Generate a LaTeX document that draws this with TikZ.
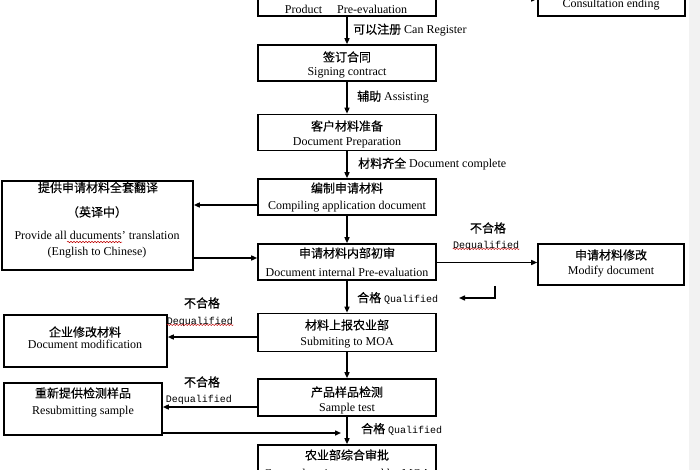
\documentclass[tikz,border=0pt]{standalone}
\usepackage{fontspec}
\setmainfont{Liberation Serif}
\setmonofont{Liberation Mono}
\newfontfamily\cjk[FakeBold=0.4]{Noto Sans CJK SC}
\usetikzlibrary{arrows.meta,decorations.pathmorphing}
\begin{document}
\begin{tikzpicture}[x=1pt,y=-1pt,
  box/.style={draw, line width=1.6pt, rectangle, inner sep=0pt},
  en/.style={font=\fontsize{12}{14}\selectfont, inner sep=0pt},
  zh/.style={font=\cjk\fontsize{12}{14}\selectfont, inner sep=0pt},
  lab/.style={font=\fontsize{12}{14}\selectfont, inner sep=0pt, anchor=west},
  tt/.style={font=\ttfamily\fontsize{10}{12}\selectfont, inner sep=0pt},
  arr/.style={line width=1.4pt, -{Triangle[length=6pt,width=5pt]}},
  wavy/.style={red!75!black, line width=0.5pt, decorate,
    decoration={snake, amplitude=0.7pt, segment length=3pt}}]
\useasboundingbox (0,0) rectangle (700,470);
\clip (0,0) rectangle (700,470);
\fill[white] (0,0) rectangle (700,470);
\fill[black!5] (689,0) rectangle (700,470);

% main column boxes
\node[box, minimum width=178pt, minimum height=40pt, anchor=south] (pre) at (347,17) {};
\node[box, minimum width=147pt, minimum height=40pt, anchor=south] (consult) at (611.5,17) {};
\node[box, minimum width=178pt, minimum height=36pt] (sign) at (347,63) {};
\node[box, minimum width=178pt, minimum height=36pt] (prep) at (347,132.5) {};
\node[box, minimum width=178pt, minimum height=36pt] (compile) at (347,197) {};
\node[box, minimum width=178pt, minimum height=36pt] (review) at (347,262) {};
\node[box, minimum width=178pt, minimum height=38pt] (submit) at (347,332.5) {};
\node[box, minimum width=178pt, minimum height=37pt] (test) at (347,397.5) {};
\node[box, minimum width=178pt, minimum height=37pt] (moa) at (347,463.5) {};
% side boxes
\node[box, minimum width=191pt, minimum height=89pt] (trans) at (97.5,225.5) {};
\node[box, minimum width=146pt, minimum height=41pt] (modify) at (611,264.5) {};
\node[box, minimum width=163pt, minimum height=52pt] (ent) at (85.5,341) {};
\node[box, minimum width=158pt, minimum height=52pt] (resub) at (83,409) {};

% texts in boxes
\node[en] (pret) at (346,9) {Product\quad\ Pre-evaluation};
\node[en] (const) at (611,5) {Consultation ending};
\node[zh] (s1) at (347,57) {签订合同};
\node[en] (s2) at (347,73) {Signing contract};
\node[zh] (p1) at (347,126) {客户材料准备};
\node[en] (p2) at (347,143) {Document Preparation};
\node[zh] (c1) at (347,188) {编制申请材料};
\node[en] (c2) at (347,207) {Compiling application document};
\node[zh] (r1) at (347,253) {申请材料内部初审};
\node[en] (r2) at (347,272) {Document internal Pre-evaluation};
\node[zh] (u1) at (347,325) {材料上报农业部};
\node[en] (u2) at (347,343) {Submiting to MOA};
\node[zh] (t1) at (347,392) {产品样品检测};
\node[en] (t2) at (347,409) {Sample test};
\node[zh] (a1) at (347,455) {农业部综合审批};
\node[en] (a2) at (347,475) {Comprehensive approval by MOA};
\node[zh] (tr1) at (98,187.5) {提供申请材料全套翻译};
\node[zh] (tr2) at (97,212) {（英译中）};
\node[en] (tr3) at (97,235) {Provide all ducuments’ translation};
\node[en] (tr4) at (97,253) {(English to Chinese)};
\node[zh] (m1t) at (611,255) {申请材料修改};
\node[en] (m2t) at (611,272) {Modify document};
\node[zh] (e1) at (85,332) {企业修改材料};
\node[en] (e2) at (85,344) {Document modification};
\node[zh] (rs1) at (83,393) {重新提供检测样品};
\node[en] (rs2) at (83,412) {Resubmitting sample};
\draw[wavy] (67,242) -- (122,242);

% edge labels
\node[lab] (l1) at (353,30) {{\cjk 可以注册} Can Register};
\node[lab] (l2) at (357,97) {{\cjk 辅助} Assisting};
\node[lab] (l3) at (358,164) {{\cjk 材料齐全} Document complete};
\node[zh] (n1) at (488,228) {不合格};
\node[tt] (d1) at (486,246) {Dequalified};
\node[lab] (q1t) at (357,298) {{\cjk 合格} \ttfamily\fontsize{10}{12}\selectfont Qualified};
\node[zh] (n2) at (202,303) {不合格};
\node[tt] (d2) at (200,322) {Dequalified};
\node[zh] (n3) at (202,382) {不合格};
\node[tt] (d3) at (199,400) {Dequalified};
\node[lab] (q2t) at (361,429) {{\cjk 合格} \ttfamily\fontsize{10}{12}\selectfont Qualified};
\draw[wavy] ([yshift=2pt]d1.south west) -- ([yshift=2pt]d1.south east);
\draw[wavy] ([yshift=2pt]d2.south west) -- ([yshift=2pt]d2.south east);

% coordinates for connectors
\coordinate (yt) at (0,-1);
\coordinate (y205) at (0,205);
\coordinate (y258) at (0,258);
\coordinate (y262) at (0,262.5);
\coordinate (y337) at (0,337);
\coordinate (y407) at (0,407);
\coordinate (bend) at (495,298);
\coordinate (qend1) at (459,298);
\coordinate (qend2) at (341,433);

% vertical flow
\draw[arr] (pre.south) -- (sign.north);
\draw[arr] (sign.south) -- (prep.north);
\draw[arr] (prep.south) -- (compile.north);
\draw[arr] (compile.south) -- (review.north);
\draw[arr] (review.south) -- (submit.north);
\draw[arr] (submit.south) -- (test.north);
\draw[arr] (test.south) -- (moa.north);
% horizontal flow
\draw[arr] (pre.east |- yt) -- (consult.west |- yt);
\draw[arr] (compile.west |- y205) -- (trans.east |- y205);
\draw[arr] (trans.east |- y258) -- (review.west |- y258);
\draw[arr] (review.east |- y262) -- (modify.west |- y262);
\draw[arr] (modify.south -| bend) -- (bend) -- (qend1);
\draw[arr] (submit.west |- y337) -- (ent.east |- y337);
\draw[arr] (test.west |- y407) -- (resub.east |- y407);
\draw[arr] (resub.east |- qend2) -- (qend2);
\end{tikzpicture}
\end{document}
